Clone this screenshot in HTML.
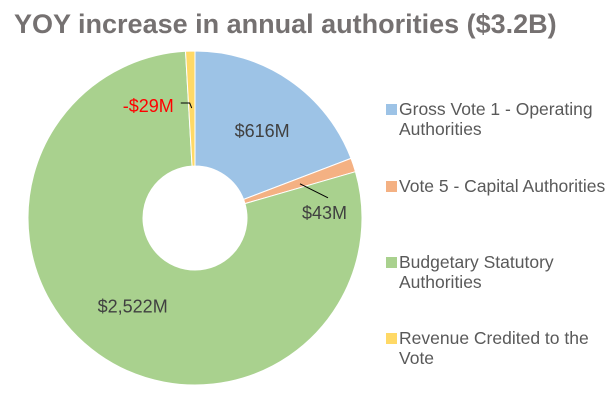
<!DOCTYPE html>
<html><head><meta charset="utf-8"><style>
body{margin:0;background:#fff;}
svg text{font-family:"Liberation Sans",Arial,sans-serif;}
</style></head><body>
<svg width="612" height="403" viewBox="0 0 612 403">
<text x="14" y="33" font-size="27" font-weight="bold" fill="#757171">YOY increase in annual authorities ($3.2B)</text>
<g id="slices"></g>
<g id="labels"></g>
<g id="legend"></g>
</svg>
<script>
const categories=["Gross Vote 1 - Operating|Authorities","Vote 5 - Capital Authorities","Budgetary Statutory|Authorities","Revenue Credited to the|Vote"];
const values=[616,43,2522,-29];
const valueLabels=["$616M","$43M","$2,522M","-$29M"];
const colors=["#9DC3E6","#F4B183","#A9D18E","#FFD966"];
const NS="http://www.w3.org/2000/svg";
const cx=195,cy=218,R=167,r=52;
const total=values.reduce((a,b)=>a+Math.abs(b),0);
function pt(a,rad){return [cx+rad*Math.sin(a),cy-rad*Math.cos(a)];}
const sl=document.getElementById('slices'),lb=document.getElementById('labels'),lg=document.getElementById('legend');
let a0=0;
const mids=[];
values.forEach((v,i)=>{
 const a1=a0+Math.abs(v)/total*2*Math.PI;
 const big=(a1-a0)>Math.PI?1:0;
 const p0=pt(a0,R),p1=pt(a1,R),q1=pt(a1,r),q0=pt(a0,r);
 const p=document.createElementNS(NS,'path');
 p.setAttribute('d',`M${p0} A${R},${R} 0 ${big} 1 ${p1} L${q1} A${r},${r} 0 ${big} 0 ${q0}Z`);
 p.setAttribute('fill',colors[i]);p.setAttribute('stroke','#fff');p.setAttribute('stroke-width','1');
 
 
 sl.appendChild(p);
 mids.push((a0+a1)/2);
 a0=a1;
});
function txt(x,y,s,fill,anchor){const t=document.createElementNS(NS,'text');t.setAttribute('x',x);t.setAttribute('y',y);t.setAttribute('font-size','18');t.setAttribute('fill',fill);t.setAttribute('text-anchor',anchor||'middle');t.textContent=s;lb.appendChild(t);return t;}
function line(pts){const l=document.createElementNS(NS,'polyline');l.setAttribute('points',pts.map(p=>p.join(',')).join(' '));l.setAttribute('fill','none');l.setAttribute('stroke','#000');l.setAttribute('stroke-width','1');lb.appendChild(l);return l;}
let m=pt(mids[0],(R+r)/2);
let t=txt(m[0]+5,m[1]+9,valueLabels[0],'#404040');


m=pt(mids[2],(R+r)/2);
t=txt(m[0]+1,m[1]+5,valueLabels[2],'#404040');


let e=pt(mids[1],R-12);
let l=line([[e[0]-42,e[1]+15],[e[0]-14,e[1]+29]]);


t=txt(e[0]-40,e[1]+50,valueLabels[1],'#404040','start');


e=pt(mids[3],R-52);
l=line([[e[0]-11,e[1]],[e[0]-2,e[1]],[e[0],e[1]+5]]);


t=txt(e[0]-18,e[1]+9,valueLabels[3],'#FF0000','end');


const ly=[115,192,268,344];
categories.forEach((c,i)=>{
 const g=document.createElementNS(NS,'g');
 
 
 const s=document.createElementNS(NS,'rect');
 s.setAttribute('x',386);s.setAttribute('y',ly[i]-11);s.setAttribute('width',11);s.setAttribute('height',11);s.setAttribute('fill',colors[i]);
 g.appendChild(s);
 c.split('|').forEach((ln,j)=>{
  const tt=document.createElementNS(NS,'text');
  tt.setAttribute('x',399);tt.setAttribute('y',ly[i]+j*20);tt.setAttribute('font-size','17.5');tt.setAttribute('fill','#595959');
  tt.textContent=ln;g.appendChild(tt);
 });
 lg.appendChild(g);
});
</script>
</body></html>
